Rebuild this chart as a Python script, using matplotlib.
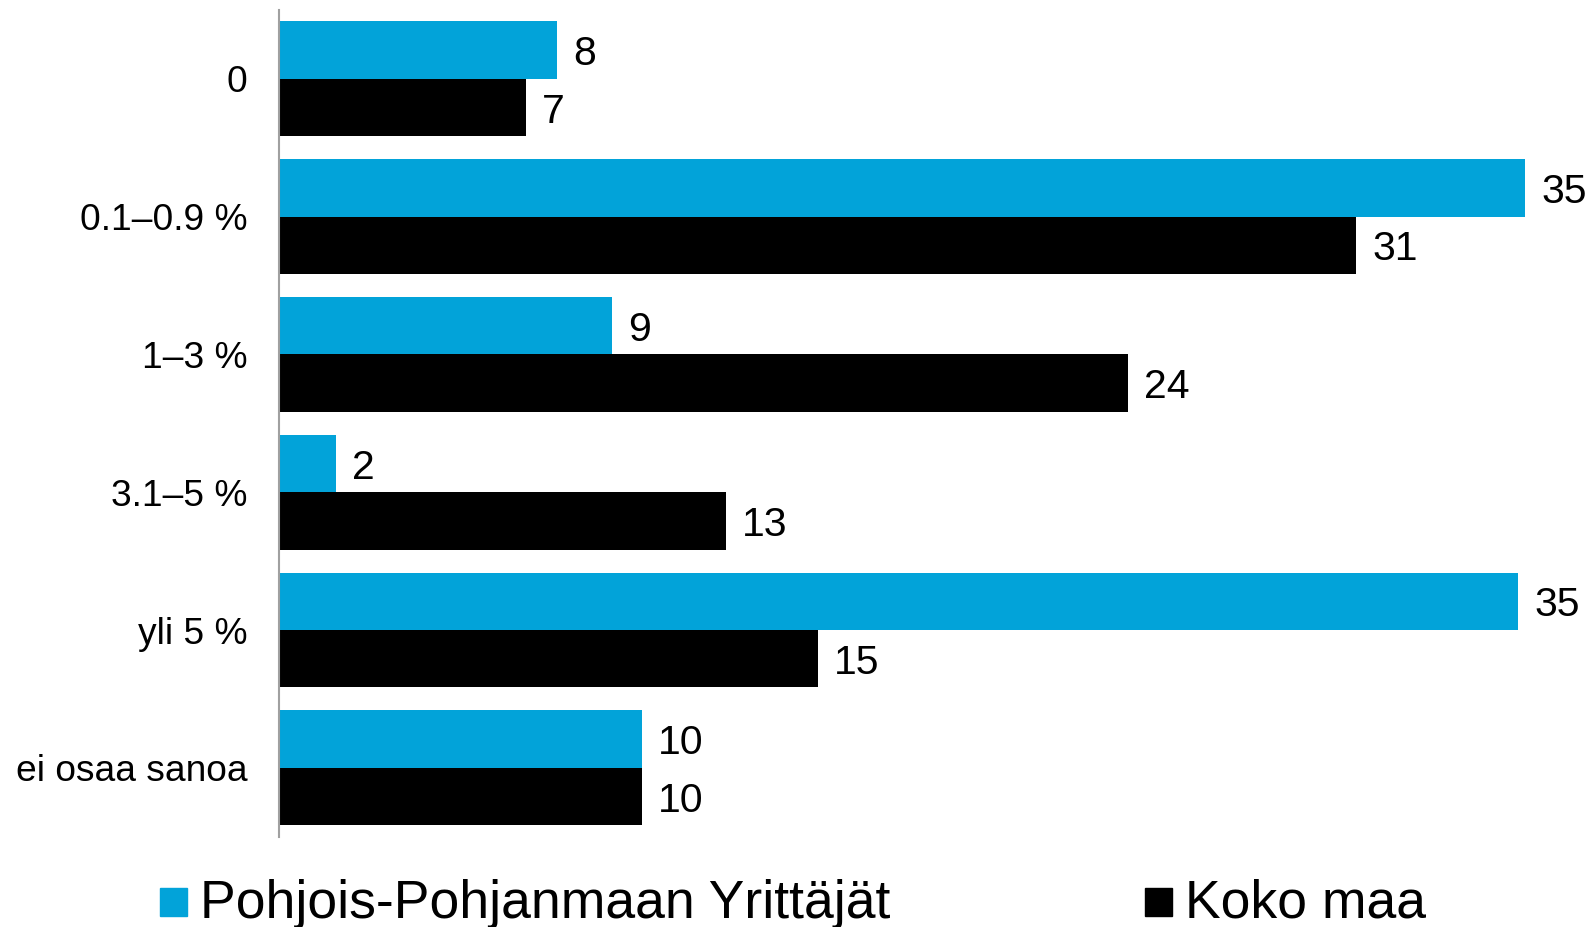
import matplotlib
matplotlib.use("Agg")
import matplotlib.pyplot as plt
from matplotlib.patches import Rectangle
import numpy as np

plt.rcParams['font.family'] = ['Liberation Sans', 'DejaVu Sans']

categories = ["0", "0.1–0.9 %", "1–3 %", "3.1–5 %", "yli 5 %", "ei osaa sanoa"]
series_names = ["Pohjois-Pohjanmaan Yrittäjät", "Koko maa"]
pohjois = [7.9, 35.4, 9.45, 1.6, 35.2, 10.3]
koko = [7.0, 30.6, 24.1, 12.7, 15.3, 10.3]
colors = ["#02A3D9", "#000000"]

W, H = 1595, 927
fig = plt.figure(figsize=(W / 100, H / 100), dpi=100)
ax = fig.add_axes([279.3 / W, 1 - 836.7 / H, 1 - 279.3 / W, (836.7 - 10) / H])

y = np.arange(len(categories))
h = 0.4167
b1 = ax.barh(y - h / 2, pohjois, height=h, color=colors[0])
b2 = ax.barh(y + h / 2, koko, height=h, color=colors[1])

for bars, vals in ((b1, pohjois), (b2, koko)):
    for rect, v in zip(bars, vals):
        ax.annotate(f"{round(v):d}", (v, rect.get_y() + rect.get_height() / 2),
                    xytext=(16, -4), textcoords="offset pixels",
                    va="center", ha="left", fontsize=29.5, color="black")

ax.set_xlim(0, 37.38)
ax.set_ylim(len(categories) - 0.5, -0.5)
ax.set_yticks(y)
ax.set_yticklabels(categories, fontsize=26.7)
ax.tick_params(axis="y", length=0, pad=23)
ax.set_xticks([])
for s in ("top", "right", "bottom"):
    ax.spines[s].set_visible(False)
ax.spines["left"].set_color("#A0A0A0")
ax.spines["left"].set_linewidth(1.5)

# legend
leg = [(160, 200), (1145, 1185)]
for (sx, tx), name, c in zip(leg, series_names, colors):
    fig.patches.append(Rectangle((sx / W, 1 - 916 / H), 27 / W, 28 / H,
                                 transform=fig.transFigure, color=c))
    fig.text(tx / W, 1 - 918 / H, name, fontsize=38.5, va="baseline", ha="left")

fig.savefig("out.png", dpi=100)
